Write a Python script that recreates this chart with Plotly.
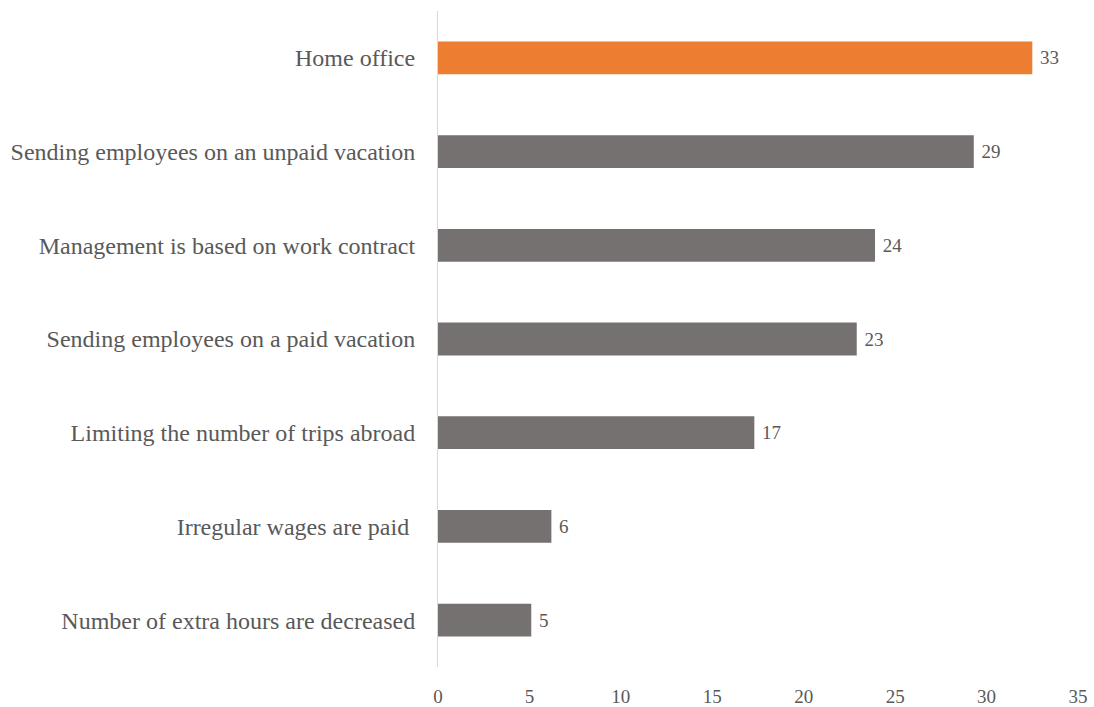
import plotly.graph_objects as go

categories = [
    "Home office",
    "Sending employees on an unpaid vacation",
    "Management is based on work contract",
    "Sending employees on a paid vacation",
    "Limiting the number of trips abroad",
    "Irregular wages are paid\u00a0",
    "Number of extra hours are decreased",
]
values = [32.5, 29.3, 23.9, 22.9, 17.3, 6.2, 5.1]
labels = ["33", "29", "24", "23", "17", "6", "5"]
colors = ["#ED7D31"] + ["#767171"] * 6

FONT = "Liberation Serif"
TXT = "#595959"

fig = go.Figure(go.Bar(
    y=categories, x=values, orientation="h",
    marker=dict(color=colors, line=dict(width=0)),
    width=0.35,
    text=labels, texttemplate="\u00a0%{text}",
    textposition="outside", cliponaxis=False,
    textfont=dict(family=FONT, size=19, color=TXT),
))

fig.update_layout(
    width=1094, height=707,
    margin=dict(l=438, r=16, t=11, b=40, autoexpand=False),
    paper_bgcolor="white", plot_bgcolor="white",
    showlegend=False,
    font=dict(family=FONT, color=TXT),
)
fig.update_xaxes(
    range=[0, 35], dtick=5, tick0=0, showgrid=False, zeroline=False,
    showline=False, tickfont=dict(family=FONT, size=19, color=TXT),
    ticks="", ticklabelstandoff=16, automargin=False,
)
fig.update_yaxes(
    autorange="reversed", showgrid=False, zeroline=False,
    showline=True, linecolor="#D9D9D9", linewidth=1,
    tickfont=dict(family=FONT, size=24, color=TXT),
    ticks="", ticklabelstandoff=17, automargin=False,
)
fig.write_html("out.html", config={"displayModeBar": False},
               post_script="document.body.style.margin='0';document.body.style.padding='0';")
